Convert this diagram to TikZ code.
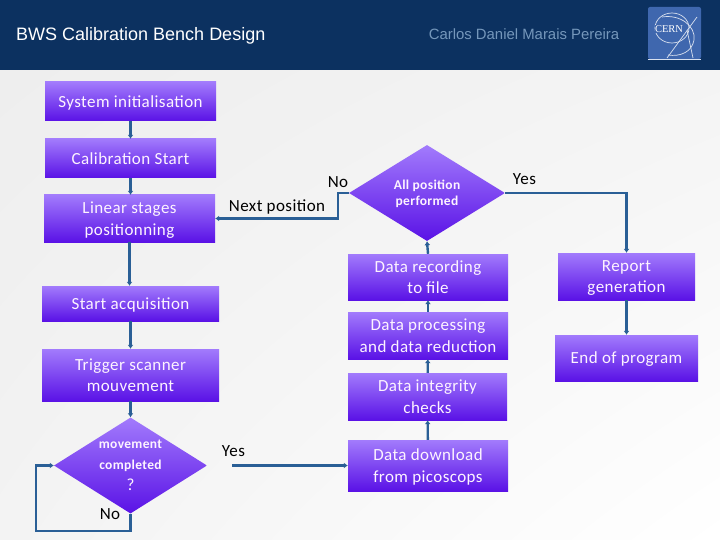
\documentclass[tikz,border=0pt]{standalone}
\usepackage{fontspec}
\setmainfont[LetterSpace=2.5]{Carlito}
\newfontfamily\headfont{Liberation Sans}
\newfontfamily\logofont{Liberation Serif}
\usetikzlibrary{shapes.geometric,shadings,arrows.meta}
\definecolor{headblue}{HTML}{0C3160}
\definecolor{linkblue}{HTML}{2A5F96}
\definecolor{logoblue}{HTML}{3F67AE}
\definecolor{boxtop}{HTML}{A27BFC}
\definecolor{boxlow}{HTML}{5A12E6}
\definecolor{boxtext}{HTML}{FDF3FF}
\definecolor{pagea}{HTML}{EEEEEE}
\definecolor{pageb}{HTML}{F4F4F4}
\definecolor{pagec}{HTML}{F3F3F3}
\tikzset{
  flowbox/.style={rectangle, top color=boxtop, bottom color=boxlow, text=boxtext, align=center, inner sep=0pt, text depth=0pt, font=\fontsize{17}{21.5}\selectfont},
  flowdiamond/.style={diamond, top color=boxtop, bottom color=boxlow, text=boxtext, align=center, inner sep=0pt, aspect=1.6},
  flowlabel/.style={text=black, inner sep=0pt, font=\fontsize{17}{20}\selectfont},
  logoline/.style={draw=white!80!logoblue, line width=0.7pt},
  link/.style={draw=linkblue, line width=2.4pt, -{Latex[length=4pt,width=6pt]}}
}
\begin{document}
\begin{tikzpicture}[x=1pt,y=-1pt]

	% Page and header.
	\useasboundingbox (0,0) rectangle (720,540);
	\shade[upper left=pagea, upper right=pageb, lower left=pagec, lower right=white] (0,70) rectangle (720,540);
	\fill[headblue] (0,0) rectangle (720,70);
	\node[text=white, inner sep=0pt, anchor=west, font=\headfont\fontsize{18}{21}\selectfont] (title) at (16,36) {BWS Calibration Bench Design};
	\node[text=linkblue!65!white, inner sep=0pt, font=\headfont\fontsize{14.9}{18}\selectfont] (author) at (524,34) {Carlos Daniel Marais Pereira};

	% CERN logo.
	\node[fill=logoblue, rounded corners=2pt, minimum width=53pt, minimum height=52pt, inner sep=0pt] (logo) at (674.5,33) {};
	\draw[logoline] (logo.south west) -- (logo.south east);
	\draw[logoline] (672,28) circle[x radius=17pt, y radius=15pt];
	\draw[logoline] (662,17) .. controls (680,14) and (696,26) .. (694,40) .. controls (692,52) and (680,57) .. (668,55);
	\draw[logoline] (697,17) -- (667,58);
	\draw[logoline] (687,30) -- (693,58);
	\node[fill=logoblue, text=white, inner sep=0.5pt, font=\logofont\fontsize{10.5}{12}\selectfont] (logo_text) at (669,29) {CERN};

	% Node definitions.
	\node[flowbox, minimum width=171pt, minimum height=39pt] (sys_init)  at (130.5,101.5) {System initialisation};
	\node[flowbox, minimum width=171pt, minimum height=39pt] (cal_start) at (130.5,158.5) {Calibration Start};
	\node[flowbox, minimum width=171pt, minimum height=47pt] (linear)    at (129.5,218.5) {Linear stages\\positionning};
	\node[flowbox, minimum width=177pt, minimum height=35pt] (acq_start) at (130.5,303.5) {Start acquisition};
	\node[flowbox, minimum width=177pt, minimum height=52pt] (trigger)   at (130.5,375) {Trigger scanner\\mouvement};
	\node[flowdiamond, minimum width=153pt, minimum height=96pt, font=\bfseries\fontsize{13.5}{21}\selectfont] (moved) at (130.5,465.5) {movement\\completed\\{\mdseries\fontsize{17}{21}\selectfont ?}};
	\node[flowdiamond, minimum width=156pt, minimum height=96pt, text depth=0pt, font=\bfseries\fontsize{13.5}{16}\selectfont] (all_pos) at (427,193) {All position\\performed};
	\node[flowbox, minimum width=160pt, minimum height=46pt] (recording)  at (428,277) {Data recording\\to file};
	\node[flowbox, minimum width=160pt, minimum height=47pt] (processing) at (428,335.5) {Data processing\\and data reduction};
	\node[flowbox, minimum width=159pt, minimum height=47pt] (integrity)  at (427.5,396.5) {Data integrity\\checks};
	\node[flowbox, minimum width=160pt, minimum height=51pt] (download)   at (428,465.5) {Data download\\from picoscops};
	\node[flowbox, minimum width=137pt, minimum height=47pt] (report)     at (626.5,276.5) {Report\\generation};
	\node[flowbox, minimum width=143pt, minimum height=46pt] (prog_end)   at (626.5,358) {End of program};

	% Labels.
	\node[flowlabel] (next_label)  at (277,206.5) {Next position};
	\node[flowlabel] (no_label)    at (338,182.5) {No};
	\node[flowlabel] (yes_label)   at (524.5,179.5) {Yes};
	\node[flowlabel] (moved_yes)   at (233.5,451.5) {Yes};
	\node[flowlabel] (moved_no)    at (110,514.5) {No};

	% Free ends and bends.
	\coordinate (no_bend)   at (338,193);
	\coordinate (loop_low)  at (36,531);
	\coordinate (yes_start) at (232,465.5);

	% Arrows.
	\draw[link] (sys_init) -- (cal_start);
	\draw[link] (cal_start) -- (cal_start |- linear.north);
	\draw[link] (linear) -- (linear |- acq_start.north);
	\draw[link] (acq_start) -- (trigger);
	\draw[link] (trigger) -- (moved);
	\draw[link] (moved.south) |- (loop_low) |- (moved.west);
	\draw[link] (yes_start) -- (download.west);
	\draw[link] (download) -- (integrity);
	\draw[link] (integrity) -- (processing);
	\draw[link] (processing) -- (recording);
	\draw[link] (recording.north) -- (all_pos.south);
	\draw[link] (all_pos.west) -- (no_bend) |- (linear.east);
	\draw[link] (all_pos.east) -| (report.north);
	\draw[link] (report) -- (prog_end);

\end{tikzpicture}
\end{document}
